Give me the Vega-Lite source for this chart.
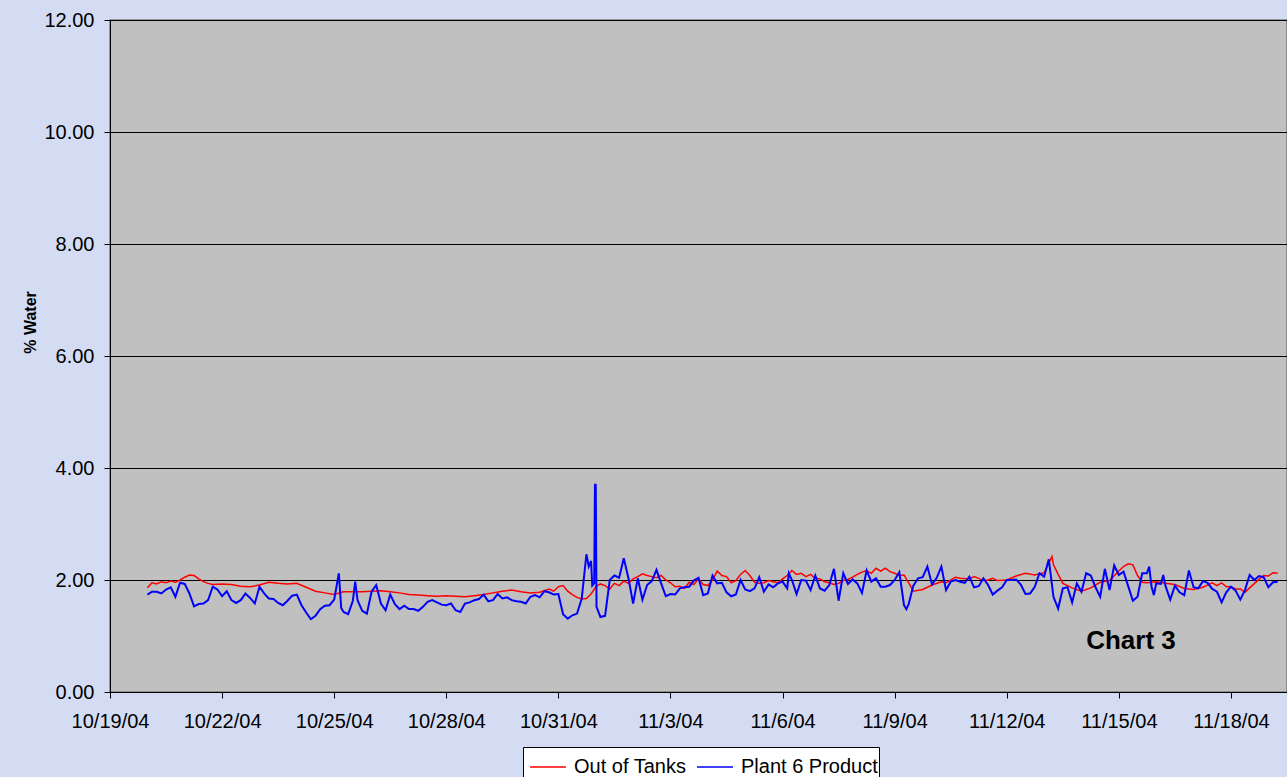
{
"$schema":"https://vega.github.io/schema/vega-lite/v6.json",
"width":1177,"height":672,
"autosize":{"type":"none"},
"padding":{"left":110,"top":20,"right":0,"bottom":85},
"background":"#D4DCF4",
"config":{
 "font":"Liberation Sans",
 "view":{"fill":"#C0C0C0","stroke":"#808080","strokeWidth":1.5},
 "axis":{"labelFont":"Liberation Sans","labelFontSize":20,"labelColor":"#000000","tickColor":"#000000","domainColor":"#000000","tickSize":6,"labelFlush":false,"labelOverlap":false}
},
"datasets":{
"tanks":[
{"t":"2004-10-20T00:00","v":1.86},{"t":"2004-10-20T03:00","v":1.95},{"t":"2004-10-20T06:00","v":1.93},{"t":"2004-10-20T09:00","v":1.97},{"t":"2004-10-20T12:00","v":1.95},{"t":"2004-10-20T15:00","v":1.98},{"t":"2004-10-20T18:00","v":1.96},{"t":"2004-10-20T21:00","v":2.00},
{"t":"2004-10-21T00:00","v":2.05},{"t":"2004-10-21T03:00","v":2.09},{"t":"2004-10-21T06:00","v":2.08},{"t":"2004-10-21T09:00","v":2.02},{"t":"2004-10-21T12:00","v":1.97},{"t":"2004-10-21T15:00","v":1.94},{"t":"2004-10-21T18:00","v":1.92},
{"t":"2004-10-22T00:00","v":1.93},{"t":"2004-10-22T06:00","v":1.92},{"t":"2004-10-22T12:00","v":1.89},{"t":"2004-10-22T18:00","v":1.88},
{"t":"2004-10-23T00:00","v":1.91},{"t":"2004-10-23T06:00","v":1.96},{"t":"2004-10-23T12:00","v":1.94},{"t":"2004-10-23T18:00","v":1.93},
{"t":"2004-10-24T00:00","v":1.94},{"t":"2004-10-24T06:00","v":1.87},{"t":"2004-10-24T12:00","v":1.80},{"t":"2004-10-24T18:00","v":1.77},
{"t":"2004-10-25T00:00","v":1.74},{"t":"2004-10-25T06:00","v":1.79},{"t":"2004-10-25T12:00","v":1.79},{"t":"2004-10-25T18:00","v":1.79},
{"t":"2004-10-26T00:00","v":1.80},{"t":"2004-10-26T06:00","v":1.81},{"t":"2004-10-26T12:00","v":1.79},{"t":"2004-10-26T18:00","v":1.77},
{"t":"2004-10-27T00:00","v":1.74},{"t":"2004-10-27T06:00","v":1.73},{"t":"2004-10-27T12:00","v":1.72},{"t":"2004-10-27T18:00","v":1.71},
{"t":"2004-10-28T00:00","v":1.72},{"t":"2004-10-28T06:00","v":1.71},{"t":"2004-10-28T12:00","v":1.70},{"t":"2004-10-28T18:00","v":1.72},
{"t":"2004-10-29T00:00","v":1.74},{"t":"2004-10-29T06:00","v":1.77},{"t":"2004-10-29T12:00","v":1.80},{"t":"2004-10-29T18:00","v":1.82},
{"t":"2004-10-30T00:00","v":1.79},{"t":"2004-10-30T06:00","v":1.77},{"t":"2004-10-30T12:00","v":1.78},{"t":"2004-10-30T18:00","v":1.84},{"t":"2004-10-30T21:00","v":1.80},
{"t":"2004-10-31T00:00","v":1.88},{"t":"2004-10-31T03:00","v":1.90},{"t":"2004-10-31T06:00","v":1.80},{"t":"2004-10-31T09:00","v":1.74},{"t":"2004-10-31T12:00","v":1.69},{"t":"2004-10-31T15:00","v":1.66},{"t":"2004-10-31T18:00","v":1.67},{"t":"2004-10-31T21:00","v":1.75},
{"t":"2004-11-01T00:00","v":1.88},{"t":"2004-11-01T03:00","v":1.93},{"t":"2004-11-01T06:00","v":1.90},{"t":"2004-11-01T09:00","v":1.84},{"t":"2004-11-01T12:00","v":1.94},{"t":"2004-11-01T15:00","v":1.90},{"t":"2004-11-01T18:00","v":1.98},{"t":"2004-11-01T21:00","v":1.94},
{"t":"2004-11-02T00:00","v":2.02},{"t":"2004-11-02T03:00","v":2.06},{"t":"2004-11-02T06:00","v":2.11},{"t":"2004-11-02T09:00","v":2.08},{"t":"2004-11-02T12:00","v":2.06},{"t":"2004-11-02T15:00","v":2.04},{"t":"2004-11-02T18:00","v":2.08},{"t":"2004-11-02T21:00","v":2.00},
{"t":"2004-11-03T00:00","v":1.95},{"t":"2004-11-03T03:00","v":1.88},{"t":"2004-11-03T06:00","v":1.89},{"t":"2004-11-03T09:00","v":1.85},{"t":"2004-11-03T12:00","v":1.96},{"t":"2004-11-03T15:00","v":1.92},{"t":"2004-11-03T18:00","v":2.02},{"t":"2004-11-03T21:00","v":1.92},
{"t":"2004-11-04T00:00","v":1.90},{"t":"2004-11-04T03:00","v":2.00},{"t":"2004-11-04T06:00","v":2.16},{"t":"2004-11-04T09:00","v":2.08},{"t":"2004-11-04T12:00","v":2.06},{"t":"2004-11-04T15:00","v":1.95},{"t":"2004-11-04T18:00","v":1.99},{"t":"2004-11-04T21:00","v":2.10},
{"t":"2004-11-05T00:00","v":2.17},{"t":"2004-11-05T03:00","v":2.08},{"t":"2004-11-05T06:00","v":1.96},{"t":"2004-11-05T09:00","v":1.94},{"t":"2004-11-05T12:00","v":1.95},{"t":"2004-11-05T15:00","v":1.99},{"t":"2004-11-05T18:00","v":1.97},{"t":"2004-11-05T21:00","v":1.95},
{"t":"2004-11-06T00:00","v":2.02},{"t":"2004-11-06T03:00","v":2.08},{"t":"2004-11-06T06:00","v":2.17},{"t":"2004-11-06T09:00","v":2.10},{"t":"2004-11-06T12:00","v":2.12},{"t":"2004-11-06T15:00","v":2.06},{"t":"2004-11-06T18:00","v":2.10},{"t":"2004-11-06T21:00","v":2.03},
{"t":"2004-11-07T00:00","v":2.02},{"t":"2004-11-07T03:00","v":1.97},{"t":"2004-11-07T06:00","v":1.95},{"t":"2004-11-07T09:00","v":1.92},{"t":"2004-11-07T12:00","v":1.94},{"t":"2004-11-07T15:00","v":1.99},{"t":"2004-11-07T18:00","v":2.01},{"t":"2004-11-07T21:00","v":2.05},
{"t":"2004-11-08T00:00","v":2.10},{"t":"2004-11-08T03:00","v":2.14},{"t":"2004-11-08T06:00","v":2.17},{"t":"2004-11-08T09:00","v":2.12},{"t":"2004-11-08T12:00","v":2.21},{"t":"2004-11-08T15:00","v":2.16},{"t":"2004-11-08T18:00","v":2.21},{"t":"2004-11-08T21:00","v":2.15},
{"t":"2004-11-09T00:00","v":2.12},{"t":"2004-11-09T03:00","v":2.08},{"t":"2004-11-09T06:00","v":2.09},{"t":"2004-11-09T09:00","v":1.95},{"t":"2004-11-09T12:00","v":1.80},{"t":"2004-11-09T18:00","v":1.83},
{"t":"2004-11-10T00:00","v":1.91},{"t":"2004-11-10T06:00","v":1.97},{"t":"2004-11-10T09:00","v":1.95},{"t":"2004-11-10T12:00","v":2.00},{"t":"2004-11-10T15:00","v":2.05},{"t":"2004-11-10T18:00","v":2.03},
{"t":"2004-11-11T00:00","v":2.02},{"t":"2004-11-11T03:00","v":2.06},{"t":"2004-11-11T06:00","v":2.03},{"t":"2004-11-11T09:00","v":1.99},{"t":"2004-11-11T12:00","v":2.00},{"t":"2004-11-11T15:00","v":2.03},{"t":"2004-11-11T18:00","v":1.99},
{"t":"2004-11-12T00:00","v":2.00},{"t":"2004-11-12T06:00","v":2.07},{"t":"2004-11-12T12:00","v":2.12},{"t":"2004-11-12T18:00","v":2.09},
{"t":"2004-11-13T00:00","v":2.13},{"t":"2004-11-13T03:00","v":2.30},{"t":"2004-11-13T05:00","v":2.42},{"t":"2004-11-13T06:00","v":2.27},{"t":"2004-11-13T09:00","v":2.10},{"t":"2004-11-13T12:00","v":1.94},{"t":"2004-11-13T18:00","v":1.86},
{"t":"2004-11-14T00:00","v":1.80},{"t":"2004-11-14T06:00","v":1.86},{"t":"2004-11-14T12:00","v":1.96},{"t":"2004-11-14T18:00","v":1.99},
{"t":"2004-11-15T00:00","v":2.16},{"t":"2004-11-15T03:00","v":2.24},{"t":"2004-11-15T06:00","v":2.29},{"t":"2004-11-15T09:00","v":2.27},{"t":"2004-11-15T12:00","v":2.08},{"t":"2004-11-15T15:00","v":1.96},{"t":"2004-11-15T18:00","v":1.95},
{"t":"2004-11-16T00:00","v":1.97},{"t":"2004-11-16T06:00","v":1.94},{"t":"2004-11-16T12:00","v":1.92},{"t":"2004-11-16T18:00","v":1.85},
{"t":"2004-11-17T00:00","v":1.83},{"t":"2004-11-17T06:00","v":1.87},{"t":"2004-11-17T12:00","v":1.95},{"t":"2004-11-17T15:00","v":1.90},{"t":"2004-11-17T18:00","v":1.95},{"t":"2004-11-17T21:00","v":1.88},
{"t":"2004-11-18T00:00","v":1.88},{"t":"2004-11-18T03:00","v":1.84},{"t":"2004-11-18T06:00","v":1.84},{"t":"2004-11-18T09:00","v":1.78},{"t":"2004-11-18T12:00","v":1.86},{"t":"2004-11-18T18:00","v":2.01},{"t":"2004-11-18T21:00","v":2.08},
{"t":"2004-11-19T00:00","v":2.07},{"t":"2004-11-19T03:00","v":2.13},{"t":"2004-11-19T06:00","v":2.12}
],
"plant":[
{"t":"2004-10-20T00:00","v":1.74},{"t":"2004-10-20T03:00","v":1.79},{"t":"2004-10-20T06:00","v":1.79},{"t":"2004-10-20T09:00","v":1.76},{"t":"2004-10-20T12:00","v":1.83},{"t":"2004-10-20T15:00","v":1.87},{"t":"2004-10-20T18:00","v":1.70},{"t":"2004-10-20T21:00","v":1.95},
{"t":"2004-10-21T00:00","v":1.93},{"t":"2004-10-21T03:00","v":1.76},{"t":"2004-10-21T06:00","v":1.53},{"t":"2004-10-21T09:00","v":1.57},{"t":"2004-10-21T12:00","v":1.58},{"t":"2004-10-21T15:00","v":1.64},{"t":"2004-10-21T18:00","v":1.88},{"t":"2004-10-21T21:00","v":1.83},
{"t":"2004-10-22T00:00","v":1.71},{"t":"2004-10-22T03:00","v":1.80},{"t":"2004-10-22T06:00","v":1.64},{"t":"2004-10-22T09:00","v":1.59},{"t":"2004-10-22T12:00","v":1.64},{"t":"2004-10-22T15:00","v":1.76},{"t":"2004-10-22T18:00","v":1.68},{"t":"2004-10-22T21:00","v":1.58},
{"t":"2004-10-23T00:00","v":1.88},{"t":"2004-10-23T03:00","v":1.76},{"t":"2004-10-23T06:00","v":1.67},{"t":"2004-10-23T09:00","v":1.66},{"t":"2004-10-23T12:00","v":1.59},{"t":"2004-10-23T15:00","v":1.55},{"t":"2004-10-23T18:00","v":1.63},{"t":"2004-10-23T21:00","v":1.72},
{"t":"2004-10-24T00:00","v":1.74},{"t":"2004-10-24T03:00","v":1.55},{"t":"2004-10-24T06:00","v":1.42},{"t":"2004-10-24T09:00","v":1.30},{"t":"2004-10-24T12:00","v":1.36},{"t":"2004-10-24T15:00","v":1.48},{"t":"2004-10-24T18:00","v":1.54},{"t":"2004-10-24T21:00","v":1.55},
{"t":"2004-10-25T00:00","v":1.65},{"t":"2004-10-25T03:00","v":2.12},{"t":"2004-10-25T04:30","v":1.50},{"t":"2004-10-25T06:00","v":1.43},{"t":"2004-10-25T09:00","v":1.39},{"t":"2004-10-25T12:00","v":1.63},{"t":"2004-10-25T13:30","v":1.97},{"t":"2004-10-25T15:00","v":1.64},{"t":"2004-10-25T18:00","v":1.45},{"t":"2004-10-25T21:00","v":1.40},
{"t":"2004-10-26T00:00","v":1.79},{"t":"2004-10-26T03:00","v":1.91},{"t":"2004-10-26T06:00","v":1.58},{"t":"2004-10-26T09:00","v":1.46},{"t":"2004-10-26T12:00","v":1.74},{"t":"2004-10-26T15:00","v":1.57},{"t":"2004-10-26T18:00","v":1.48},{"t":"2004-10-26T21:00","v":1.54},
{"t":"2004-10-27T00:00","v":1.48},{"t":"2004-10-27T03:00","v":1.48},{"t":"2004-10-27T06:00","v":1.45},{"t":"2004-10-27T09:00","v":1.52},{"t":"2004-10-27T12:00","v":1.61},{"t":"2004-10-27T15:00","v":1.64},{"t":"2004-10-27T18:00","v":1.60},{"t":"2004-10-27T21:00","v":1.56},
{"t":"2004-10-28T00:00","v":1.55},{"t":"2004-10-28T03:00","v":1.58},{"t":"2004-10-28T06:00","v":1.46},{"t":"2004-10-28T09:00","v":1.43},{"t":"2004-10-28T12:00","v":1.58},{"t":"2004-10-28T15:00","v":1.60},{"t":"2004-10-28T18:00","v":1.64},{"t":"2004-10-28T21:00","v":1.66},
{"t":"2004-10-29T00:00","v":1.74},{"t":"2004-10-29T03:00","v":1.62},{"t":"2004-10-29T06:00","v":1.64},{"t":"2004-10-29T09:00","v":1.75},{"t":"2004-10-29T12:00","v":1.67},{"t":"2004-10-29T15:00","v":1.69},{"t":"2004-10-29T18:00","v":1.64},{"t":"2004-10-29T21:00","v":1.62},
{"t":"2004-10-30T00:00","v":1.61},{"t":"2004-10-30T03:00","v":1.58},{"t":"2004-10-30T06:00","v":1.70},{"t":"2004-10-30T09:00","v":1.73},{"t":"2004-10-30T12:00","v":1.69},{"t":"2004-10-30T15:00","v":1.80},{"t":"2004-10-30T18:00","v":1.78},{"t":"2004-10-30T21:00","v":1.74},
{"t":"2004-10-31T00:00","v":1.75},{"t":"2004-10-31T03:00","v":1.39},{"t":"2004-10-31T06:00","v":1.31},{"t":"2004-10-31T09:00","v":1.37},{"t":"2004-10-31T12:00","v":1.40},{"t":"2004-10-31T15:00","v":1.67},{"t":"2004-10-31T18:00","v":2.46},{"t":"2004-10-31T19:30","v":2.24},{"t":"2004-10-31T21:00","v":2.34},{"t":"2004-10-31T21:45","v":1.90},{"t":"2004-10-31T23:00","v":1.94},{"t":"2004-10-31T23:30","v":3.70},
{"t":"2004-11-01T00:00","v":3.70},{"t":"2004-11-01T00:30","v":1.52},{"t":"2004-11-01T03:00","v":1.34},{"t":"2004-11-01T06:00","v":1.36},{"t":"2004-11-01T09:00","v":2.00},{"t":"2004-11-01T12:00","v":2.08},{"t":"2004-11-01T15:00","v":2.04},{"t":"2004-11-01T18:00","v":2.39},{"t":"2004-11-01T21:00","v":2.03},
{"t":"2004-11-02T00:00","v":1.58},{"t":"2004-11-02T03:00","v":2.03},{"t":"2004-11-02T06:00","v":1.65},{"t":"2004-11-02T09:00","v":1.91},{"t":"2004-11-02T12:00","v":1.98},{"t":"2004-11-02T15:00","v":2.18},{"t":"2004-11-02T18:00","v":1.94},{"t":"2004-11-02T21:00","v":1.71},
{"t":"2004-11-03T00:00","v":1.75},{"t":"2004-11-03T03:00","v":1.74},{"t":"2004-11-03T06:00","v":1.85},{"t":"2004-11-03T09:00","v":1.87},{"t":"2004-11-03T12:00","v":1.88},{"t":"2004-11-03T15:00","v":1.99},{"t":"2004-11-03T18:00","v":2.04},{"t":"2004-11-03T21:00","v":1.73},
{"t":"2004-11-04T00:00","v":1.76},{"t":"2004-11-04T03:00","v":2.08},{"t":"2004-11-04T06:00","v":1.94},{"t":"2004-11-04T09:00","v":1.95},{"t":"2004-11-04T12:00","v":1.78},{"t":"2004-11-04T15:00","v":1.71},{"t":"2004-11-04T18:00","v":1.74},{"t":"2004-11-04T21:00","v":2.00},
{"t":"2004-11-05T00:00","v":1.83},{"t":"2004-11-05T03:00","v":1.80},{"t":"2004-11-05T06:00","v":1.85},{"t":"2004-11-05T09:00","v":2.05},{"t":"2004-11-05T12:00","v":1.79},{"t":"2004-11-05T15:00","v":1.92},{"t":"2004-11-05T18:00","v":1.87},{"t":"2004-11-05T21:00","v":1.94},
{"t":"2004-11-06T00:00","v":1.97},{"t":"2004-11-06T03:00","v":1.85},{"t":"2004-11-06T04:00","v":2.12},{"t":"2004-11-06T06:00","v":2.00},{"t":"2004-11-06T09:00","v":1.75},{"t":"2004-11-06T12:00","v":2.00},{"t":"2004-11-06T15:00","v":1.99},{"t":"2004-11-06T18:00","v":1.82},{"t":"2004-11-06T21:00","v":2.08},
{"t":"2004-11-07T00:00","v":1.85},{"t":"2004-11-07T03:00","v":1.81},{"t":"2004-11-07T06:00","v":1.91},{"t":"2004-11-07T09:00","v":2.20},{"t":"2004-11-07T12:00","v":1.63},{"t":"2004-11-07T15:00","v":2.12},{"t":"2004-11-07T18:00","v":1.93},{"t":"2004-11-07T21:00","v":2.01},
{"t":"2004-11-08T00:00","v":1.94},{"t":"2004-11-08T03:00","v":1.77},{"t":"2004-11-08T06:00","v":2.17},{"t":"2004-11-08T09:00","v":1.97},{"t":"2004-11-08T12:00","v":2.03},{"t":"2004-11-08T15:00","v":1.88},{"t":"2004-11-08T18:00","v":1.88},{"t":"2004-11-08T21:00","v":1.91},
{"t":"2004-11-09T00:00","v":2.00},{"t":"2004-11-09T03:00","v":2.14},{"t":"2004-11-09T06:00","v":1.55},{"t":"2004-11-09T07:30","v":1.48},{"t":"2004-11-09T09:00","v":1.57},{"t":"2004-11-09T12:00","v":1.90},{"t":"2004-11-09T15:00","v":2.03},{"t":"2004-11-09T18:00","v":2.05},{"t":"2004-11-09T21:00","v":2.24},
{"t":"2004-11-10T00:00","v":1.92},{"t":"2004-11-10T03:00","v":2.04},{"t":"2004-11-10T06:00","v":2.24},{"t":"2004-11-10T09:00","v":1.82},{"t":"2004-11-10T12:00","v":1.97},{"t":"2004-11-10T15:00","v":2.00},{"t":"2004-11-10T18:00","v":1.97},{"t":"2004-11-10T21:00","v":1.95},
{"t":"2004-11-11T00:00","v":2.06},{"t":"2004-11-11T03:00","v":1.87},{"t":"2004-11-11T06:00","v":1.89},{"t":"2004-11-11T09:00","v":2.03},{"t":"2004-11-11T12:00","v":1.91},{"t":"2004-11-11T15:00","v":1.74},{"t":"2004-11-11T18:00","v":1.81},{"t":"2004-11-11T21:00","v":1.87},
{"t":"2004-11-12T00:00","v":2.00},{"t":"2004-11-12T03:00","v":2.00},{"t":"2004-11-12T06:00","v":2.01},{"t":"2004-11-12T09:00","v":1.92},{"t":"2004-11-12T12:00","v":1.75},{"t":"2004-11-12T15:00","v":1.76},{"t":"2004-11-12T18:00","v":1.88},{"t":"2004-11-12T21:00","v":2.12},
{"t":"2004-11-13T00:00","v":2.06},{"t":"2004-11-13T03:00","v":2.37},{"t":"2004-11-13T06:00","v":1.70},{"t":"2004-11-13T09:00","v":1.49},{"t":"2004-11-13T12:00","v":1.85},{"t":"2004-11-13T15:00","v":1.87},{"t":"2004-11-13T18:00","v":1.60},{"t":"2004-11-13T21:00","v":1.94},
{"t":"2004-11-14T00:00","v":1.79},{"t":"2004-11-14T03:00","v":2.12},{"t":"2004-11-14T06:00","v":2.08},{"t":"2004-11-14T09:00","v":1.87},{"t":"2004-11-14T12:00","v":1.70},{"t":"2004-11-14T15:00","v":2.20},{"t":"2004-11-14T18:00","v":1.82},{"t":"2004-11-14T21:00","v":2.26},
{"t":"2004-11-15T00:00","v":2.09},{"t":"2004-11-15T03:00","v":2.15},{"t":"2004-11-15T06:00","v":1.89},{"t":"2004-11-15T09:00","v":1.63},{"t":"2004-11-15T12:00","v":1.70},{"t":"2004-11-15T15:00","v":2.12},{"t":"2004-11-15T18:00","v":2.12},{"t":"2004-11-15T19:30","v":2.24},{"t":"2004-11-15T21:00","v":1.88},{"t":"2004-11-15T22:30","v":1.73},
{"t":"2004-11-16T00:00","v":1.94},{"t":"2004-11-16T03:00","v":1.93},{"t":"2004-11-16T04:30","v":2.09},{"t":"2004-11-16T06:00","v":1.89},{"t":"2004-11-16T09:00","v":1.65},{"t":"2004-11-16T12:00","v":1.90},{"t":"2004-11-16T15:00","v":1.78},{"t":"2004-11-16T18:00","v":1.73},{"t":"2004-11-16T21:00","v":2.17},
{"t":"2004-11-17T00:00","v":1.87},{"t":"2004-11-17T03:00","v":1.85},{"t":"2004-11-17T06:00","v":1.98},{"t":"2004-11-17T09:00","v":1.95},{"t":"2004-11-17T12:00","v":1.84},{"t":"2004-11-17T15:00","v":1.79},{"t":"2004-11-17T18:00","v":1.60},{"t":"2004-11-17T21:00","v":1.78},
{"t":"2004-11-18T00:00","v":1.88},{"t":"2004-11-18T03:00","v":1.81},{"t":"2004-11-18T06:00","v":1.65},{"t":"2004-11-18T09:00","v":1.82},{"t":"2004-11-18T12:00","v":2.09},{"t":"2004-11-18T15:00","v":2.00},{"t":"2004-11-18T18:00","v":2.07},{"t":"2004-11-18T21:00","v":2.05},
{"t":"2004-11-19T00:00","v":1.87},{"t":"2004-11-19T03:00","v":1.96},{"t":"2004-11-19T06:00","v":1.97}
],
"notes":[{"t":"2004-11-15T07:45","v":0.91,"label":"Chart 3"}]
},
"layer":[
{"data":{"name":"tanks"},
 "mark":{"type":"line","strokeWidth":1.5,"clip":true},
 "encoding":{
  "x":{"field":"t","type":"temporal",
   "scale":{"domain":[{"year":2004,"month":10,"date":19},{"year":2004,"month":11,"date":19,"hours":12}]},
   "axis":{"title":null,"grid":false,"format":"%-m/%-d/%y","labelPadding":13,"tickSize":6,
    "values":[{"year":2004,"month":10,"date":19},{"year":2004,"month":10,"date":22},{"year":2004,"month":10,"date":25},{"year":2004,"month":10,"date":28},{"year":2004,"month":10,"date":31},{"year":2004,"month":11,"date":3},{"year":2004,"month":11,"date":6},{"year":2004,"month":11,"date":9},{"year":2004,"month":11,"date":12},{"year":2004,"month":11,"date":15},{"year":2004,"month":11,"date":18}]}},
  "y":{"field":"v","type":"quantitative",
   "scale":{"domain":[0,12],"nice":false},
   "axis":{"values":[0,2,4,6,8,10,12],"format":".2f","grid":true,"gridColor":"#000000","gridWidth":1,"labelPadding":10,"tickSize":6,
    "title":"% Water","titleFont":"Liberation Sans","titleFontSize":16,"titleFontWeight":"bold","titleColor":"#000000","titleAngle":270,"titleX":-80,"titleY":302,"titleAlign":"center","titleBaseline":"middle"}},
  "color":{"datum":"Out of Tanks","type":"nominal",
   "scale":{"domain":["Out of Tanks","Plant 6 Product"],"range":["#FF0000","#0000FF"]},
   "legend":{"orient":"none","legendX":413,"legendY":727,"direction":"horizontal","title":null,"fillColor":"#FFFFFF","strokeColor":"#000000","padding":1,"symbolOffset":5,"symbolType":"stroke","symbolSize":1296,"symbolStrokeWidth":1.5,"labelFont":"Liberation Sans","labelFontSize":20,"labelColor":"#000000","labelOffset":7,"columnPadding":4,"labelLimit":400}}
 }},
{"data":{"name":"plant"},
 "mark":{"type":"line","strokeWidth":2,"clip":true},
 "encoding":{
  "x":{"field":"t","type":"temporal"},
  "y":{"field":"v","type":"quantitative"},
  "color":{"datum":"Plant 6 Product","type":"nominal"}
 }},
{"data":{"name":"notes"},
 "mark":{"type":"text","font":"Liberation Sans","fontSize":26,"fontWeight":"bold","color":"#000000","align":"center","baseline":"middle"},
 "encoding":{
  "x":{"field":"t","type":"temporal"},
  "y":{"field":"v","type":"quantitative"},
  "text":{"field":"label"}
 }}
]
}
